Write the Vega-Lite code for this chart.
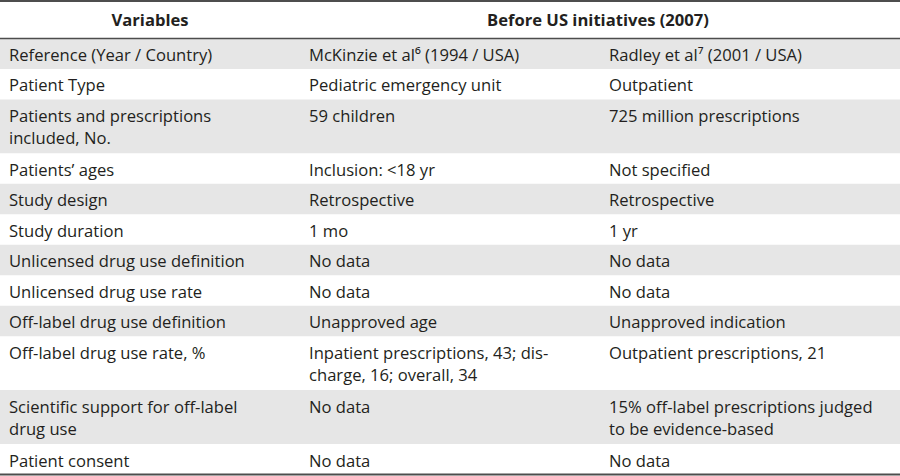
{
  "$schema": "https://vega.github.io/schema/vega-lite/v6.json",
  "width": 900,
  "height": 476,
  "padding": 0,
  "autosize": {"type": "none"},
  "background": "white",
  "config": {"view": {"stroke": null}, "text": {"font": "Open Sans", "fontSize": 16.6, "color": "#231f20"}},
  "datasets": {
    "body": [
      {"i": 1, "v": ["Reference (Year / Country)"], "c1": ["McKinzie et al⁶ (1994 / USA)"], "c2": ["Radley et al⁷ (2001 / USA)"]},
      {"i": 2, "v": ["Patient Type"], "c1": ["Pediatric emergency unit"], "c2": ["Outpatient"]},
      {"i": 3, "v": ["Patients and prescriptions", "included, No."], "c1": ["59 children"], "c2": ["725 million prescriptions"]},
      {"i": 4, "v": ["Patients’ ages"], "c1": ["Inclusion: <18 yr"], "c2": ["Not specified"]},
      {"i": 5, "v": ["Study design"], "c1": ["Retrospective"], "c2": ["Retrospective"]},
      {"i": 6, "v": ["Study duration"], "c1": ["1 mo"], "c2": ["1 yr"]},
      {"i": 7, "v": ["Unlicensed drug use definition"], "c1": ["No data"], "c2": ["No data"]},
      {"i": 8, "v": ["Unlicensed drug use rate"], "c1": ["No data"], "c2": ["No data"]},
      {"i": 9, "v": ["Off-label drug use definition"], "c1": ["Unapproved age"], "c2": ["Unapproved indication"]},
      {"i": 10, "v": ["Off-label drug use rate, %"], "c1": ["Inpatient prescriptions, 43; dis-", "charge, 16; overall, 34"], "c2": ["Outpatient prescriptions, 21"]},
      {"i": 11, "v": ["Scientific support for off-label", "drug use"], "c1": ["No data"], "c2": ["15% off-label prescriptions judged", "to be evidence-based"]},
      {"i": 12, "v": ["Patient consent"], "c1": ["No data"], "c2": ["No data"]}
    ],
    "header": [
      {"k": "v", "t": "Variables"},
      {"k": "c1", "t": "Before US initiatives (2007)"}
    ]
  },
  "layer": [
    {
      "data": {"name": "body"},
      "transform": [
        {"calculate": "max(length(datum.v), length(datum.c1), length(datum.c2))", "as": "n"},
        {"calculate": "1 + 0.77 * (datum.n - 1)", "as": "h"},
        {"window": [{"op": "sum", "field": "h", "as": "cum"}], "sort": [{"field": "i"}], "frame": [null, 0]},
        {"calculate": "datum.cum - datum.h", "as": "top"},
        {"filter": "datum.i % 2 == 1"}
      ],
      "mark": {"type": "rect", "fill": "#e6e6e6"},
      "encoding": {
        "y": {"field": "top", "type": "quantitative", "scale": {"domain": [-1.263, 14.36], "reverse": true, "nice": false, "zero": false}, "axis": null},
        "y2": {"field": "cum"}
      }
    },
    {
      "data": {"name": "body"},
      "transform": [
        {"calculate": "max(length(datum.v), length(datum.c1), length(datum.c2))", "as": "n"},
        {"calculate": "1 + 0.77 * (datum.n - 1)", "as": "h"},
        {"window": [{"op": "sum", "field": "h", "as": "cum"}], "sort": [{"field": "i"}], "frame": [null, 0]},
        {"calculate": "datum.cum - datum.h", "as": "top"},
        {"fold": ["v", "c1", "c2"], "as": ["key", "value"]}
      ],
      "mark": {"type": "text", "align": "left", "baseline": "alphabetic", "dx": 9, "dy": 22.5, "lineHeight": 22},
      "encoding": {
        "x": {"field": "key", "type": "nominal", "bandPosition": 0, "scale": {"type": "band", "domain": ["v", "c1", "c2"], "paddingInner": 0, "paddingOuter": 0}, "axis": null},
        "y": {"field": "top", "type": "quantitative"},
        "text": {"field": "value"}
      }
    },
    {
      "data": {"name": "header"},
      "transform": [{"filter": "datum.k == 'v'"}],
      "mark": {"type": "text", "align": "center", "baseline": "alphabetic", "fontWeight": "bold", "dy": 25},
      "encoding": {
        "x": {"field": "k", "type": "nominal", "bandPosition": 0.5},
        "y": {"datum": -1.23, "type": "quantitative"},
        "text": {"field": "t"}
      }
    },
    {
      "data": {"name": "header"},
      "transform": [{"filter": "datum.k == 'c1'"}],
      "mark": {"type": "text", "align": "center", "baseline": "alphabetic", "fontWeight": "bold", "dy": 25, "dx": -2},
      "encoding": {
        "x": {"field": "k", "type": "nominal", "bandPosition": 1},
        "y": {"datum": -1.23, "type": "quantitative"},
        "text": {"field": "t"}
      }
    },
    {
      "data": {"values": [{"y": -1.23, "w": 2}, {"y": 0, "w": 1.5}, {"y": 14.31, "w": 2}]},
      "mark": {"type": "rule", "color": "#4d4d4d"},
      "encoding": {
        "y": {"field": "y", "type": "quantitative"},
        "strokeWidth": {"field": "w", "type": "quantitative", "scale": null}
      }
    }
  ]
}
